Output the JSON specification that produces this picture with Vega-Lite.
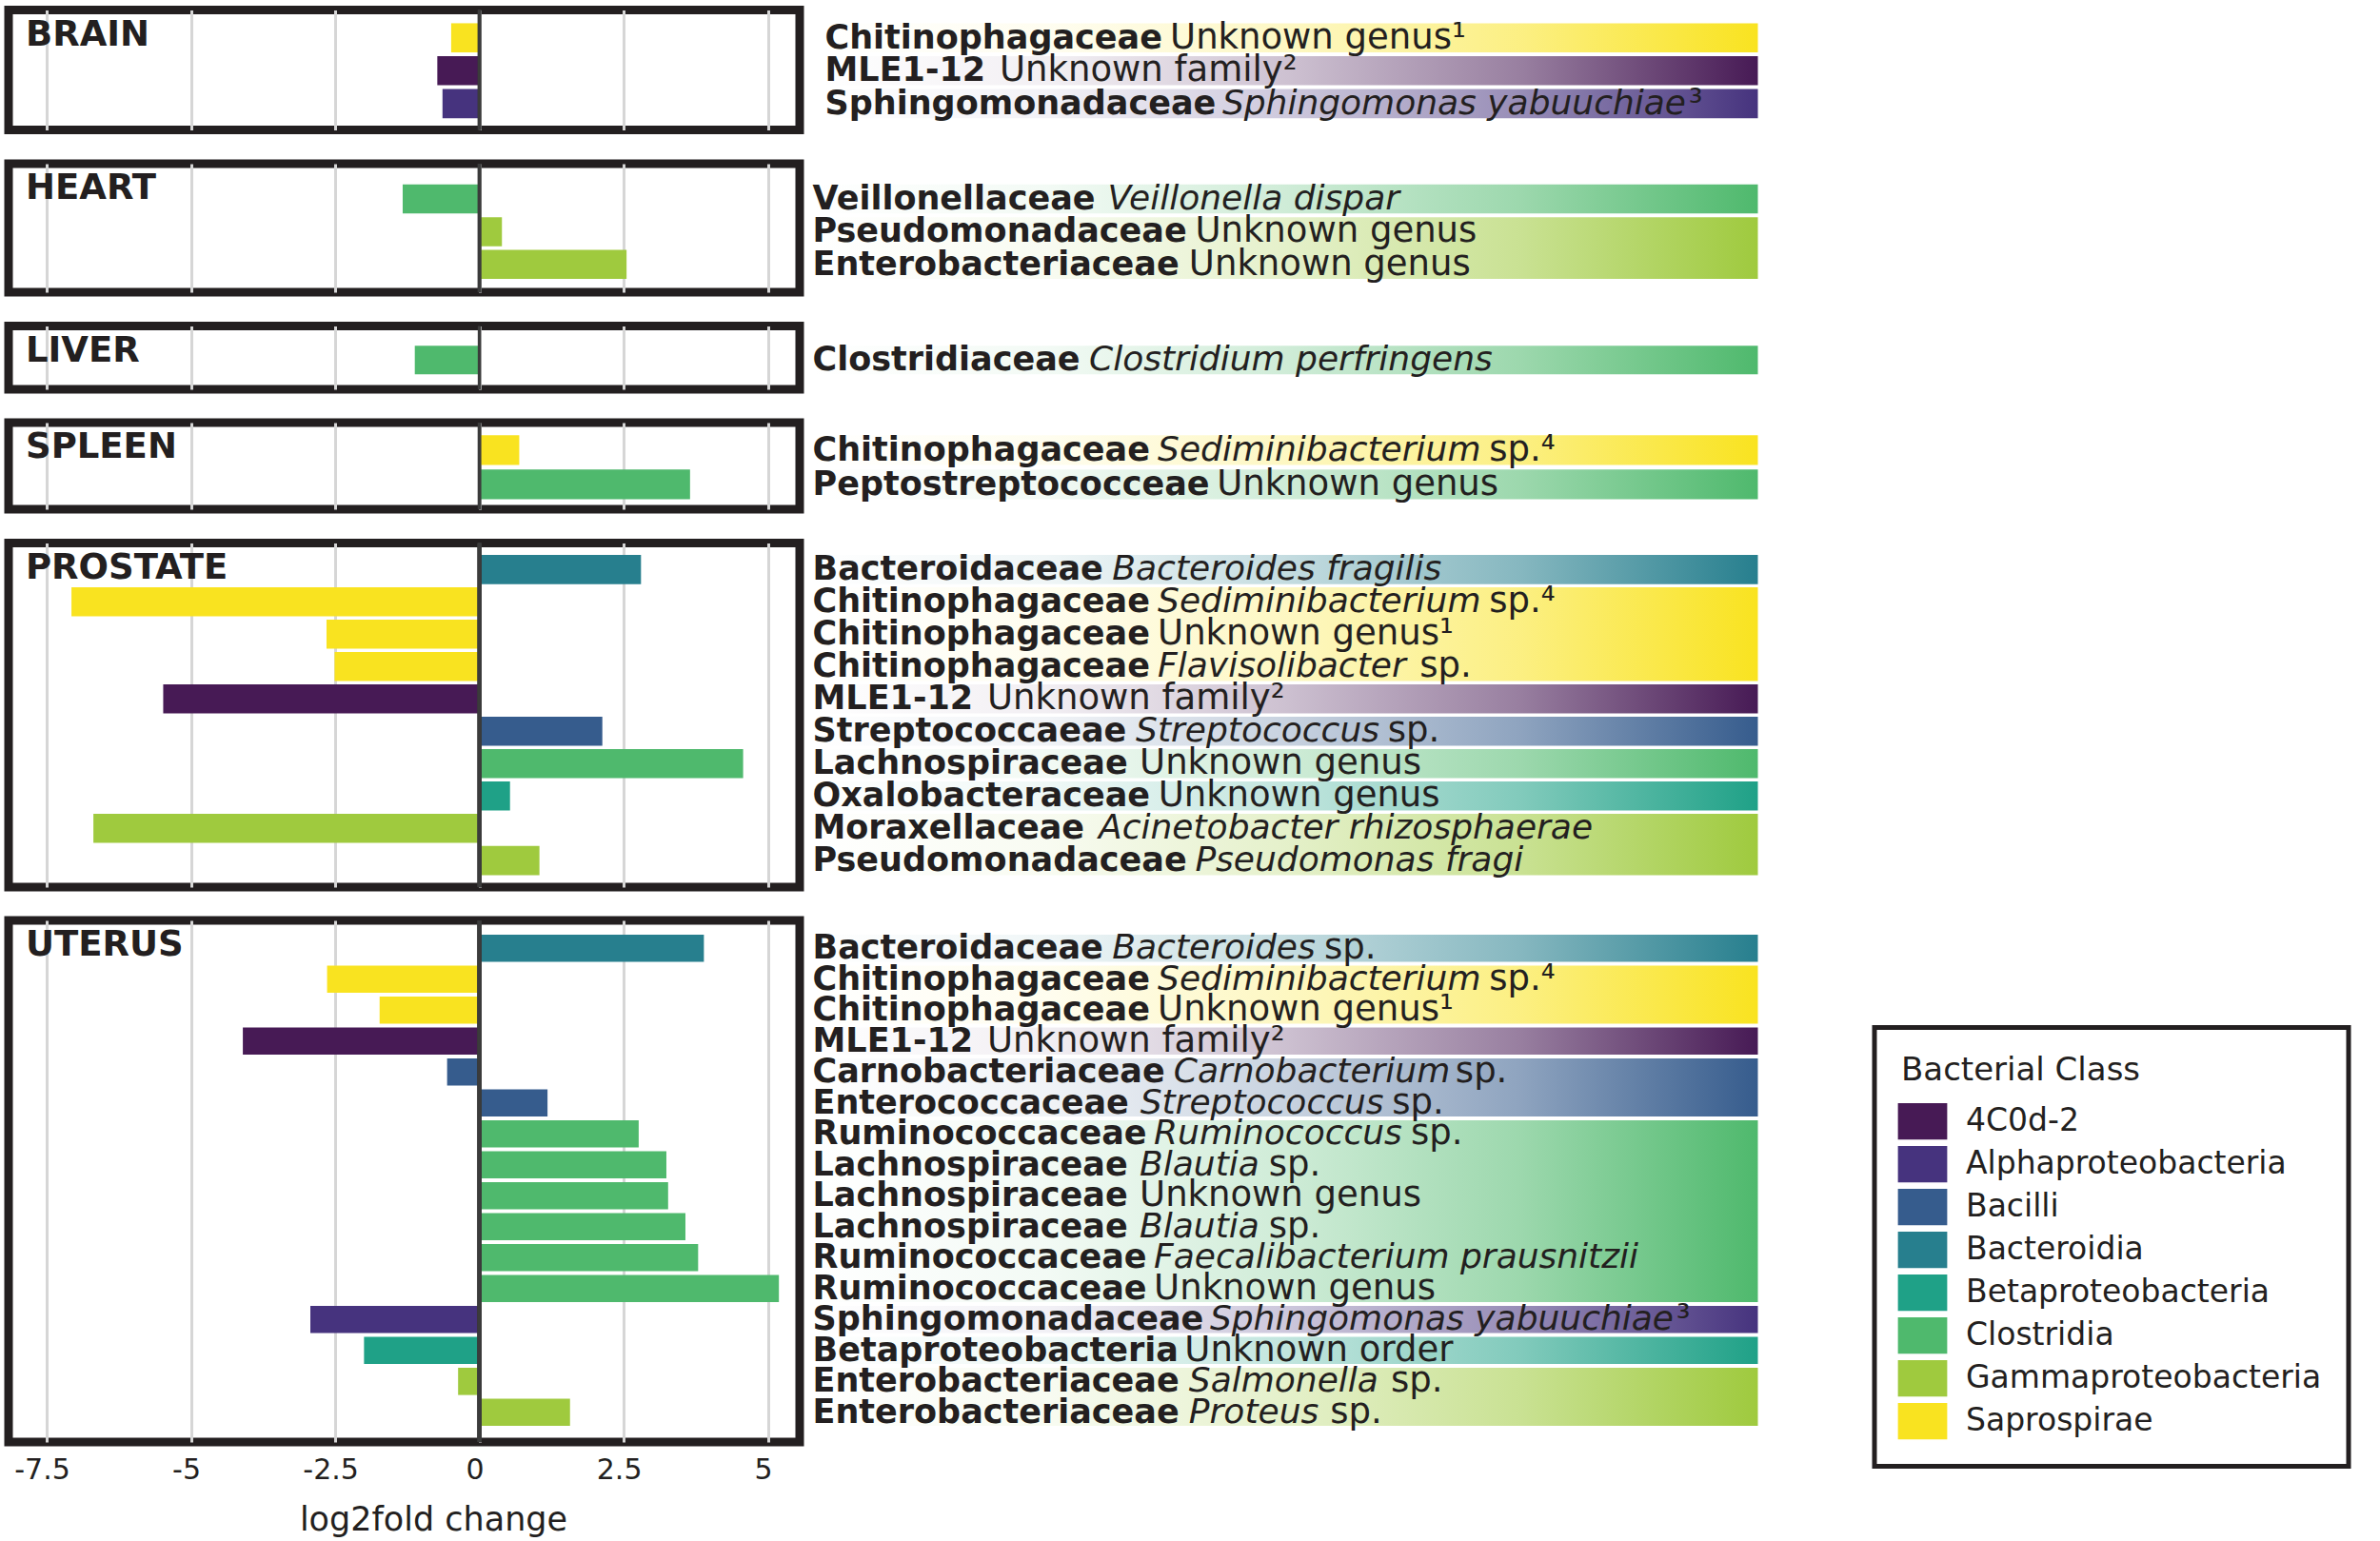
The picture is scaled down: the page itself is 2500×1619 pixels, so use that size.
{
  "$schema": "https://vega.github.io/schema/vega-lite/v6.json",
  "background": "white",
  "padding": {"left": 4, "top": 3.5, "right": 4, "bottom": 2},
  "datasets": {
    "taxa": [
      {"organ": "Brain", "rank": 1, "family": "Chitinophagaceae", "taxon": "", "note": "Unknown genus¹", "cls": "Saprospirae", "lfc": -0.49},
      {"organ": "Brain", "rank": 2, "family": "MLE1-12", "taxon": "", "note": "Unknown family²", "cls": "4C0d-2", "lfc": -0.73},
      {"organ": "Brain", "rank": 3, "family": "Sphingomonadaceae", "taxon": "Sphingomonas yabuuchiae", "note": "³", "cls": "Alphaproteobacteria", "lfc": -0.64},
      {"organ": "Heart", "rank": 1, "family": "Veillonellaceae", "taxon": "Veillonella dispar", "note": "", "cls": "Clostridia", "lfc": -1.33},
      {"organ": "Heart", "rank": 2, "family": "Pseudomonadaceae", "taxon": "", "note": "Unknown genus", "cls": "Gammaproteobacteria", "lfc": 0.39},
      {"organ": "Heart", "rank": 3, "family": "Enterobacteriaceae", "taxon": "", "note": "Unknown genus", "cls": "Gammaproteobacteria", "lfc": 2.55},
      {"organ": "Liver", "rank": 1, "family": "Clostridiaceae", "taxon": "Clostridium perfringens", "note": "", "cls": "Clostridia", "lfc": -1.12},
      {"organ": "Spleen", "rank": 1, "family": "Chitinophagaceae", "taxon": "Sediminibacterium", "note": "sp.⁴", "cls": "Saprospirae", "lfc": 0.69},
      {"organ": "Spleen", "rank": 2, "family": "Peptostreptococceae", "taxon": "", "note": "Unknown genus", "cls": "Clostridia", "lfc": 3.65},
      {"organ": "Prostate", "rank": 1, "family": "Bacteroidaceae", "taxon": "Bacteroides fragilis", "note": "", "cls": "Bacteroidia", "lfc": 2.8},
      {"organ": "Prostate", "rank": 2, "family": "Chitinophagaceae", "taxon": "Sediminibacterium", "note": "sp.⁴", "cls": "Saprospirae", "lfc": -7.07},
      {"organ": "Prostate", "rank": 3, "family": "Chitinophagaceae", "taxon": "", "note": "Unknown genus¹", "cls": "Saprospirae", "lfc": -2.65},
      {"organ": "Prostate", "rank": 4, "family": "Chitinophagaceae", "taxon": "Flavisolibacter", "note": "sp.", "cls": "Saprospirae", "lfc": -2.51},
      {"organ": "Prostate", "rank": 5, "family": "MLE1-12", "taxon": "", "note": "Unknown family²", "cls": "4C0d-2", "lfc": -5.48},
      {"organ": "Prostate", "rank": 6, "family": "Streptococcaeae", "taxon": "Streptococcus", "note": "sp.", "cls": "Bacilli", "lfc": 2.13},
      {"organ": "Prostate", "rank": 7, "family": "Lachnospiraceae", "taxon": "", "note": "Unknown genus", "cls": "Clostridia", "lfc": 4.57},
      {"organ": "Prostate", "rank": 8, "family": "Oxalobacteraceae", "taxon": "", "note": "Unknown genus", "cls": "Betaproteobacteria", "lfc": 0.53},
      {"organ": "Prostate", "rank": 9, "family": "Moraxellaceae", "taxon": "Acinetobacter rhizosphaerae", "note": "", "cls": "Gammaproteobacteria", "lfc": -6.69},
      {"organ": "Prostate", "rank": 10, "family": "Pseudomonadaceae", "taxon": "Pseudomonas fragi", "note": "", "cls": "Gammaproteobacteria", "lfc": 1.04},
      {"organ": "Uterus", "rank": 1, "family": "Bacteroidaceae", "taxon": "Bacteroides", "note": "sp.", "cls": "Bacteroidia", "lfc": 3.89},
      {"organ": "Uterus", "rank": 2, "family": "Chitinophagaceae", "taxon": "Sediminibacterium", "note": "sp.⁴", "cls": "Saprospirae", "lfc": -2.64},
      {"organ": "Uterus", "rank": 3, "family": "Chitinophagaceae", "taxon": "", "note": "Unknown genus¹", "cls": "Saprospirae", "lfc": -1.73},
      {"organ": "Uterus", "rank": 4, "family": "MLE1-12", "taxon": "", "note": "Unknown family²", "cls": "4C0d-2", "lfc": -4.1},
      {"organ": "Uterus", "rank": 5, "family": "Carnobacteriaceae", "taxon": "Carnobacterium", "note": "sp.", "cls": "Bacilli", "lfc": -0.56},
      {"organ": "Uterus", "rank": 6, "family": "Enterococcaceae", "taxon": "Streptococcus", "note": "sp.", "cls": "Bacilli", "lfc": 1.18},
      {"organ": "Uterus", "rank": 7, "family": "Ruminococcaceae", "taxon": "Ruminococcus", "note": "sp.", "cls": "Clostridia", "lfc": 2.76},
      {"organ": "Uterus", "rank": 8, "family": "Lachnospiraceae", "taxon": "Blautia", "note": "sp.", "cls": "Clostridia", "lfc": 3.24},
      {"organ": "Uterus", "rank": 9, "family": "Lachnospiraceae", "taxon": "", "note": "Unknown genus", "cls": "Clostridia", "lfc": 3.27},
      {"organ": "Uterus", "rank": 10, "family": "Lachnospiraceae", "taxon": "Blautia", "note": "sp.", "cls": "Clostridia", "lfc": 3.57},
      {"organ": "Uterus", "rank": 11, "family": "Ruminococcaceae", "taxon": "Faecalibacterium prausnitzii", "note": "", "cls": "Clostridia", "lfc": 3.79},
      {"organ": "Uterus", "rank": 12, "family": "Ruminococcaceae", "taxon": "", "note": "Unknown genus", "cls": "Clostridia", "lfc": 5.19},
      {"organ": "Uterus", "rank": 13, "family": "Sphingomonadaceae", "taxon": "Sphingomonas yabuuchiae", "note": "³", "cls": "Alphaproteobacteria", "lfc": -2.93},
      {"organ": "Uterus", "rank": 14, "family": "Betaproteobacteria", "taxon": "", "note": "Unknown order", "cls": "Betaproteobacteria", "lfc": -2.0},
      {"organ": "Uterus", "rank": 15, "family": "Enterobacteriaceae", "taxon": "Salmonella", "note": "sp.", "cls": "Gammaproteobacteria", "lfc": -0.37},
      {"organ": "Uterus", "rank": 16, "family": "Enterobacteriaceae", "taxon": "Proteus", "note": "sp.", "cls": "Gammaproteobacteria", "lfc": 1.57}
    ]
  },
  "data": {"name": "taxa"},
  "spacing": 21.5,
  "resolve": {"scale": {"x": "independent", "y": "independent", "color": "shared"}, "legend": {"color": "shared"}},
  "vconcat": [
    {
      "hconcat": [
        {
          "width": 831, "height": 126,
          "title": {"text": "BRAIN", "anchor": "start", "frame": "group", "orient": "top", "offset": -47, "dx": 18, "baseline": "top", "font": "DejaVu Sans", "fontSize": 37, "fontWeight": "bold", "color": "#231f20"},
          "transform": [{"filter": "datum.organ === 'Brain'"}],
          "layer": [
            {"mark": {"type": "bar"},
             "encoding": {
               "y": {"field": "rank", "type": "ordinal", "axis": null, "scale": {"paddingInner": 0.114, "paddingOuter": 0.38, "align": 0.53}},
               "x": {"field": "lfc", "type": "quantitative", "scale": {"domain": [-8.16, 5.55], "nice": false}, "axis": {"values": [-7.5, -5, -2.5, 0, 2.5, 5], "grid": true, "gridColor": "#d6d6d6", "gridWidth": 3, "labels": false, "ticks": false, "domain": false, "title": null}},
               "color": {"field": "cls", "type": "nominal", "title": "Bacterial Class", "scale": {"domain": ["4C0d-2", "Alphaproteobacteria", "Bacilli", "Bacteroidia", "Betaproteobacteria", "Clostridia", "Gammaproteobacteria", "Saprospirae"], "range": ["#471a55", "#46337e", "#365c8d", "#277f8e", "#1fa187", "#4fb96d", "#9fca3e", "#f9e320"]}}}},
            {"mark": {"type": "rule", "color": "#3b3b3b", "strokeWidth": 3.5}, "encoding": {"x": {"datum": 0}}}
          ]
        },
        {
          "width": 985, "height": 126, "view": {"stroke": null},
          "transform": [{"filter": "datum.organ === 'Brain'"}],
          "layer": [
            {"transform": [{"aggregate": [{"op": "min", "field": "rank", "as": "first"}, {"op": "max", "field": "rank", "as": "last"}], "groupby": ["cls"]}],
             "mark": {"type": "rect"},
             "encoding": {
               "y": {"field": "first", "type": "ordinal", "bandPosition": 0, "axis": null, "scale": {"paddingInner": 0.114, "paddingOuter": 0.38, "align": 0.53}},
               "y2": {"field": "last", "bandPosition": 1},
               "x": {"datum": 0, "type": "quantitative", "scale": {"domain": [0, 1], "nice": false}, "axis": null},
               "x2": {"datum": 1},
               "fill": {"condition": [
                 {"test": "datum.cls === '4C0d-2'", "value": {"gradient": "linear", "x1": 0, "y1": 0, "x2": 1, "y2": 0, "stops": [{"offset": 0, "color": "rgba(71,26,85,0)"}, {"offset": 0.25, "color": "rgba(71,26,85,0.07)"}, {"offset": 0.5, "color": "rgba(71,26,85,0.27)"}, {"offset": 0.75, "color": "rgba(71,26,85,0.56)"}, {"offset": 1, "color": "rgba(71,26,85,1)"}]}},
                 {"test": "datum.cls === 'Alphaproteobacteria'", "value": {"gradient": "linear", "x1": 0, "y1": 0, "x2": 1, "y2": 0, "stops": [{"offset": 0, "color": "rgba(70,51,126,0)"}, {"offset": 0.25, "color": "rgba(70,51,126,0.07)"}, {"offset": 0.5, "color": "rgba(70,51,126,0.27)"}, {"offset": 0.75, "color": "rgba(70,51,126,0.56)"}, {"offset": 1, "color": "rgba(70,51,126,1)"}]}},
                 {"test": "datum.cls === 'Saprospirae'", "value": {"gradient": "linear", "x1": 0, "y1": 0, "x2": 1, "y2": 0, "stops": [{"offset": 0, "color": "rgba(249,227,32,0)"}, {"offset": 0.25, "color": "rgba(249,227,32,0.07)"}, {"offset": 0.5, "color": "rgba(249,227,32,0.27)"}, {"offset": 0.75, "color": "rgba(249,227,32,0.56)"}, {"offset": 1, "color": "rgba(249,227,32,1)"}]}}
               ], "value": "#ffffff"}}},
            {"mark": {"type": "text", "align": "left", "baseline": "middle", "font": "DejaVu Sans", "fontWeight": "bold", "fontSize": 35, "color": "#231f20", "dx": 5},
             "encoding": {"y": {"field": "rank", "type": "ordinal"}, "x": {"datum": 0, "type": "quantitative"}, "text": {"field": "family"}}},
            {"mark": {"type": "text", "align": "left", "baseline": "middle", "font": "DejaVu Sans", "fontStyle": "italic", "fontSize": 36, "color": "#231f20",
                      "dx": {"expr": "5+35*(0.69*length(datum.family)-0.347*(length(datum.family)-length(replace(datum.family,regexp('[ilj]','g'),'')))-0.23*(length(datum.family)-length(replace(datum.family,regexp('[tfr -]','g'),'')))-0.1*(length(datum.family)-length(replace(datum.family,regexp('[csz]','g'),'')))+0.3*(length(datum.family)-length(replace(datum.family,regexp('[mwM]','g'),''))))+12"}},
             "encoding": {"y": {"field": "rank", "type": "ordinal"}, "x": {"datum": 0, "type": "quantitative"}, "text": {"field": "taxon"}}},
            {"mark": {"type": "text", "align": "left", "baseline": "middle", "font": "DejaVu Sans", "fontSize": 37, "color": "#231f20",
                      "dx": {"expr": "5+35*(0.69*length(datum.family)-0.347*(length(datum.family)-length(replace(datum.family,regexp('[ilj]','g'),'')))-0.23*(length(datum.family)-length(replace(datum.family,regexp('[tfr -]','g'),'')))-0.1*(length(datum.family)-length(replace(datum.family,regexp('[csz]','g'),'')))+0.3*(length(datum.family)-length(replace(datum.family,regexp('[mwM]','g'),''))))+12+(datum.taxon ? 36*(0.62*length(datum.taxon)-0.34*(length(datum.taxon)-length(replace(datum.taxon,regexp('[ilj.]','g'),'')))-0.25*(length(datum.taxon)-length(replace(datum.taxon,regexp('[tfr ]','g'),'')))-0.08*(length(datum.taxon)-length(replace(datum.taxon,regexp('[sc]','g'),'')))+0.354*(length(datum.taxon)-length(replace(datum.taxon,regexp('[m]','g'),'')))+0.2*(length(datum.taxon)-length(replace(datum.taxon,regexp('[w]','g'),''))))+(test(regexp('^[¹²³⁴]'),datum.note)?3:13) : 0)"}},
             "encoding": {"y": {"field": "rank", "type": "ordinal"}, "x": {"datum": 0, "type": "quantitative"}, "text": {"field": "note"}}}
          ]
        }
      ],
      "spacing": 21.5, "bounds": "flush",
      "resolve": {"scale": {"x": "independent", "y": "independent"}}
    },
    {
      "hconcat": [
        {
          "width": 831, "height": 135,
          "title": {"text": "HEART", "anchor": "start", "frame": "group", "orient": "top", "offset": -47, "dx": 18, "baseline": "top", "font": "DejaVu Sans", "fontSize": 37, "fontWeight": "bold", "color": "#231f20"},
          "transform": [{"filter": "datum.organ === 'Heart'"}],
          "layer": [
            {"mark": {"type": "bar"},
             "encoding": {
               "y": {"field": "rank", "type": "ordinal", "axis": null, "scale": {"paddingInner": 0.114, "paddingOuter": 0.52, "align": 0.61}},
               "x": {"field": "lfc", "type": "quantitative", "scale": {"domain": [-8.16, 5.55], "nice": false}, "axis": {"values": [-7.5, -5, -2.5, 0, 2.5, 5], "grid": true, "gridColor": "#d6d6d6", "gridWidth": 3, "labels": false, "ticks": false, "domain": false, "title": null}},
               "color": {"field": "cls", "type": "nominal", "title": "Bacterial Class", "scale": {"domain": ["4C0d-2", "Alphaproteobacteria", "Bacilli", "Bacteroidia", "Betaproteobacteria", "Clostridia", "Gammaproteobacteria", "Saprospirae"], "range": ["#471a55", "#46337e", "#365c8d", "#277f8e", "#1fa187", "#4fb96d", "#9fca3e", "#f9e320"]}}}},
            {"mark": {"type": "rule", "color": "#3b3b3b", "strokeWidth": 3.5}, "encoding": {"x": {"datum": 0}}}
          ]
        },
        {
          "width": 996, "height": 135, "view": {"stroke": null},
          "transform": [{"filter": "datum.organ === 'Heart'"}],
          "layer": [
            {"transform": [{"aggregate": [{"op": "min", "field": "rank", "as": "first"}, {"op": "max", "field": "rank", "as": "last"}], "groupby": ["cls"]}],
             "mark": {"type": "rect"},
             "encoding": {
               "y": {"field": "first", "type": "ordinal", "bandPosition": 0, "axis": null, "scale": {"paddingInner": 0.114, "paddingOuter": 0.52, "align": 0.61}},
               "y2": {"field": "last", "bandPosition": 1},
               "x": {"datum": 0, "type": "quantitative", "scale": {"domain": [0, 1], "nice": false}, "axis": null},
               "x2": {"datum": 1},
               "fill": {"condition": [
                 {"test": "datum.cls === 'Clostridia'", "value": {"gradient": "linear", "x1": 0, "y1": 0, "x2": 1, "y2": 0, "stops": [{"offset": 0, "color": "rgba(79,185,109,0)"}, {"offset": 0.25, "color": "rgba(79,185,109,0.07)"}, {"offset": 0.5, "color": "rgba(79,185,109,0.27)"}, {"offset": 0.75, "color": "rgba(79,185,109,0.56)"}, {"offset": 1, "color": "rgba(79,185,109,1)"}]}},
                 {"test": "datum.cls === 'Gammaproteobacteria'", "value": {"gradient": "linear", "x1": 0, "y1": 0, "x2": 1, "y2": 0, "stops": [{"offset": 0, "color": "rgba(159,202,62,0)"}, {"offset": 0.25, "color": "rgba(159,202,62,0.07)"}, {"offset": 0.5, "color": "rgba(159,202,62,0.27)"}, {"offset": 0.75, "color": "rgba(159,202,62,0.56)"}, {"offset": 1, "color": "rgba(159,202,62,1)"}]}}
               ], "value": "#ffffff"}}},
            {"mark": {"type": "text", "align": "left", "baseline": "middle", "font": "DejaVu Sans", "fontWeight": "bold", "fontSize": 35, "color": "#231f20", "dx": 3},
             "encoding": {"y": {"field": "rank", "type": "ordinal"}, "x": {"datum": 0, "type": "quantitative"}, "text": {"field": "family"}}},
            {"mark": {"type": "text", "align": "left", "baseline": "middle", "font": "DejaVu Sans", "fontStyle": "italic", "fontSize": 36, "color": "#231f20",
                      "dx": {"expr": "3+35*(0.69*length(datum.family)-0.347*(length(datum.family)-length(replace(datum.family,regexp('[ilj]','g'),'')))-0.23*(length(datum.family)-length(replace(datum.family,regexp('[tfr -]','g'),'')))-0.1*(length(datum.family)-length(replace(datum.family,regexp('[csz]','g'),'')))+0.3*(length(datum.family)-length(replace(datum.family,regexp('[mwM]','g'),''))))+12"}},
             "encoding": {"y": {"field": "rank", "type": "ordinal"}, "x": {"datum": 0, "type": "quantitative"}, "text": {"field": "taxon"}}},
            {"mark": {"type": "text", "align": "left", "baseline": "middle", "font": "DejaVu Sans", "fontSize": 37, "color": "#231f20",
                      "dx": {"expr": "3+35*(0.69*length(datum.family)-0.347*(length(datum.family)-length(replace(datum.family,regexp('[ilj]','g'),'')))-0.23*(length(datum.family)-length(replace(datum.family,regexp('[tfr -]','g'),'')))-0.1*(length(datum.family)-length(replace(datum.family,regexp('[csz]','g'),'')))+0.3*(length(datum.family)-length(replace(datum.family,regexp('[mwM]','g'),''))))+12+(datum.taxon ? 36*(0.62*length(datum.taxon)-0.34*(length(datum.taxon)-length(replace(datum.taxon,regexp('[ilj.]','g'),'')))-0.25*(length(datum.taxon)-length(replace(datum.taxon,regexp('[tfr ]','g'),'')))-0.08*(length(datum.taxon)-length(replace(datum.taxon,regexp('[sc]','g'),'')))+0.354*(length(datum.taxon)-length(replace(datum.taxon,regexp('[m]','g'),'')))+0.2*(length(datum.taxon)-length(replace(datum.taxon,regexp('[w]','g'),''))))+(test(regexp('^[¹²³⁴]'),datum.note)?3:13) : 0)"}},
             "encoding": {"y": {"field": "rank", "type": "ordinal"}, "x": {"datum": 0, "type": "quantitative"}, "text": {"field": "note"}}}
          ]
        }
      ],
      "spacing": 10.5, "bounds": "flush",
      "resolve": {"scale": {"x": "independent", "y": "independent"}}
    },
    {
      "hconcat": [
        {
          "width": 831, "height": 66.5,
          "title": {"text": "LIVER", "anchor": "start", "frame": "group", "orient": "top", "offset": -47, "dx": 18, "baseline": "top", "font": "DejaVu Sans", "fontSize": 37, "fontWeight": "bold", "color": "#231f20"},
          "transform": [{"filter": "datum.organ === 'Liver'"}],
          "layer": [
            {"mark": {"type": "bar"},
             "encoding": {
               "y": {"field": "rank", "type": "ordinal", "axis": null, "scale": {"paddingInner": 0.114, "paddingOuter": 0.54, "align": 0.57}},
               "x": {"field": "lfc", "type": "quantitative", "scale": {"domain": [-8.16, 5.55], "nice": false}, "axis": {"values": [-7.5, -5, -2.5, 0, 2.5, 5], "grid": true, "gridColor": "#d6d6d6", "gridWidth": 3, "labels": false, "ticks": false, "domain": false, "title": null}},
               "color": {"field": "cls", "type": "nominal", "title": "Bacterial Class", "scale": {"domain": ["4C0d-2", "Alphaproteobacteria", "Bacilli", "Bacteroidia", "Betaproteobacteria", "Clostridia", "Gammaproteobacteria", "Saprospirae"], "range": ["#471a55", "#46337e", "#365c8d", "#277f8e", "#1fa187", "#4fb96d", "#9fca3e", "#f9e320"]}}}},
            {"mark": {"type": "rule", "color": "#3b3b3b", "strokeWidth": 3.5}, "encoding": {"x": {"datum": 0}}}
          ]
        },
        {
          "width": 996, "height": 66.5, "view": {"stroke": null},
          "transform": [{"filter": "datum.organ === 'Liver'"}],
          "layer": [
            {"transform": [{"aggregate": [{"op": "min", "field": "rank", "as": "first"}, {"op": "max", "field": "rank", "as": "last"}], "groupby": ["cls"]}],
             "mark": {"type": "rect"},
             "encoding": {
               "y": {"field": "first", "type": "ordinal", "bandPosition": 0, "axis": null, "scale": {"paddingInner": 0.114, "paddingOuter": 0.54, "align": 0.57}},
               "y2": {"field": "last", "bandPosition": 1},
               "x": {"datum": 0, "type": "quantitative", "scale": {"domain": [0, 1], "nice": false}, "axis": null},
               "x2": {"datum": 1},
               "fill": {"condition": [
                 {"test": "datum.cls === 'Clostridia'", "value": {"gradient": "linear", "x1": 0, "y1": 0, "x2": 1, "y2": 0, "stops": [{"offset": 0, "color": "rgba(79,185,109,0)"}, {"offset": 0.25, "color": "rgba(79,185,109,0.07)"}, {"offset": 0.5, "color": "rgba(79,185,109,0.27)"}, {"offset": 0.75, "color": "rgba(79,185,109,0.56)"}, {"offset": 1, "color": "rgba(79,185,109,1)"}]}}
               ], "value": "#ffffff"}}},
            {"mark": {"type": "text", "align": "left", "baseline": "middle", "font": "DejaVu Sans", "fontWeight": "bold", "fontSize": 35, "color": "#231f20", "dx": 3},
             "encoding": {"y": {"field": "rank", "type": "ordinal"}, "x": {"datum": 0, "type": "quantitative"}, "text": {"field": "family"}}},
            {"mark": {"type": "text", "align": "left", "baseline": "middle", "font": "DejaVu Sans", "fontStyle": "italic", "fontSize": 36, "color": "#231f20",
                      "dx": {"expr": "3+35*(0.69*length(datum.family)-0.347*(length(datum.family)-length(replace(datum.family,regexp('[ilj]','g'),'')))-0.23*(length(datum.family)-length(replace(datum.family,regexp('[tfr -]','g'),'')))-0.1*(length(datum.family)-length(replace(datum.family,regexp('[csz]','g'),'')))+0.3*(length(datum.family)-length(replace(datum.family,regexp('[mwM]','g'),''))))+12"}},
             "encoding": {"y": {"field": "rank", "type": "ordinal"}, "x": {"datum": 0, "type": "quantitative"}, "text": {"field": "taxon"}}},
            {"mark": {"type": "text", "align": "left", "baseline": "middle", "font": "DejaVu Sans", "fontSize": 37, "color": "#231f20",
                      "dx": {"expr": "3+35*(0.69*length(datum.family)-0.347*(length(datum.family)-length(replace(datum.family,regexp('[ilj]','g'),'')))-0.23*(length(datum.family)-length(replace(datum.family,regexp('[tfr -]','g'),'')))-0.1*(length(datum.family)-length(replace(datum.family,regexp('[csz]','g'),'')))+0.3*(length(datum.family)-length(replace(datum.family,regexp('[mwM]','g'),''))))+12+(datum.taxon ? 36*(0.62*length(datum.taxon)-0.34*(length(datum.taxon)-length(replace(datum.taxon,regexp('[ilj.]','g'),'')))-0.25*(length(datum.taxon)-length(replace(datum.taxon,regexp('[tfr ]','g'),'')))-0.08*(length(datum.taxon)-length(replace(datum.taxon,regexp('[sc]','g'),'')))+0.354*(length(datum.taxon)-length(replace(datum.taxon,regexp('[m]','g'),'')))+0.2*(length(datum.taxon)-length(replace(datum.taxon,regexp('[w]','g'),''))))+(test(regexp('^[¹²³⁴]'),datum.note)?3:13) : 0)"}},
             "encoding": {"y": {"field": "rank", "type": "ordinal"}, "x": {"datum": 0, "type": "quantitative"}, "text": {"field": "note"}}}
          ]
        }
      ],
      "spacing": 10.5, "bounds": "flush",
      "resolve": {"scale": {"x": "independent", "y": "independent"}}
    },
    {
      "hconcat": [
        {
          "width": 831, "height": 91,
          "title": {"text": "SPLEEN", "anchor": "start", "frame": "group", "orient": "top", "offset": -47, "dx": 18, "baseline": "top", "font": "DejaVu Sans", "fontSize": 37, "fontWeight": "bold", "color": "#231f20"},
          "transform": [{"filter": "datum.organ === 'Spleen'"}],
          "layer": [
            {"mark": {"type": "bar"},
             "encoding": {
               "y": {"field": "rank", "type": "ordinal", "axis": null, "scale": {"paddingInner": 0.135, "paddingOuter": 0.33, "align": 0.56}},
               "x": {"field": "lfc", "type": "quantitative", "scale": {"domain": [-8.16, 5.55], "nice": false}, "axis": {"values": [-7.5, -5, -2.5, 0, 2.5, 5], "grid": true, "gridColor": "#d6d6d6", "gridWidth": 3, "labels": false, "ticks": false, "domain": false, "title": null}},
               "color": {"field": "cls", "type": "nominal", "title": "Bacterial Class", "scale": {"domain": ["4C0d-2", "Alphaproteobacteria", "Bacilli", "Bacteroidia", "Betaproteobacteria", "Clostridia", "Gammaproteobacteria", "Saprospirae"], "range": ["#471a55", "#46337e", "#365c8d", "#277f8e", "#1fa187", "#4fb96d", "#9fca3e", "#f9e320"]}}}},
            {"mark": {"type": "rule", "color": "#3b3b3b", "strokeWidth": 3.5}, "encoding": {"x": {"datum": 0}}}
          ]
        },
        {
          "width": 996, "height": 91, "view": {"stroke": null},
          "transform": [{"filter": "datum.organ === 'Spleen'"}],
          "layer": [
            {"transform": [{"aggregate": [{"op": "min", "field": "rank", "as": "first"}, {"op": "max", "field": "rank", "as": "last"}], "groupby": ["cls"]}],
             "mark": {"type": "rect"},
             "encoding": {
               "y": {"field": "first", "type": "ordinal", "bandPosition": 0, "axis": null, "scale": {"paddingInner": 0.135, "paddingOuter": 0.33, "align": 0.56}},
               "y2": {"field": "last", "bandPosition": 1},
               "x": {"datum": 0, "type": "quantitative", "scale": {"domain": [0, 1], "nice": false}, "axis": null},
               "x2": {"datum": 1},
               "fill": {"condition": [
                 {"test": "datum.cls === 'Clostridia'", "value": {"gradient": "linear", "x1": 0, "y1": 0, "x2": 1, "y2": 0, "stops": [{"offset": 0, "color": "rgba(79,185,109,0)"}, {"offset": 0.25, "color": "rgba(79,185,109,0.07)"}, {"offset": 0.5, "color": "rgba(79,185,109,0.27)"}, {"offset": 0.75, "color": "rgba(79,185,109,0.56)"}, {"offset": 1, "color": "rgba(79,185,109,1)"}]}},
                 {"test": "datum.cls === 'Saprospirae'", "value": {"gradient": "linear", "x1": 0, "y1": 0, "x2": 1, "y2": 0, "stops": [{"offset": 0, "color": "rgba(249,227,32,0)"}, {"offset": 0.25, "color": "rgba(249,227,32,0.07)"}, {"offset": 0.5, "color": "rgba(249,227,32,0.27)"}, {"offset": 0.75, "color": "rgba(249,227,32,0.56)"}, {"offset": 1, "color": "rgba(249,227,32,1)"}]}}
               ], "value": "#ffffff"}}},
            {"mark": {"type": "text", "align": "left", "baseline": "middle", "font": "DejaVu Sans", "fontWeight": "bold", "fontSize": 35, "color": "#231f20", "dx": 3},
             "encoding": {"y": {"field": "rank", "type": "ordinal"}, "x": {"datum": 0, "type": "quantitative"}, "text": {"field": "family"}}},
            {"mark": {"type": "text", "align": "left", "baseline": "middle", "font": "DejaVu Sans", "fontStyle": "italic", "fontSize": 36, "color": "#231f20",
                      "dx": {"expr": "3+35*(0.69*length(datum.family)-0.347*(length(datum.family)-length(replace(datum.family,regexp('[ilj]','g'),'')))-0.23*(length(datum.family)-length(replace(datum.family,regexp('[tfr -]','g'),'')))-0.1*(length(datum.family)-length(replace(datum.family,regexp('[csz]','g'),'')))+0.3*(length(datum.family)-length(replace(datum.family,regexp('[mwM]','g'),''))))+12"}},
             "encoding": {"y": {"field": "rank", "type": "ordinal"}, "x": {"datum": 0, "type": "quantitative"}, "text": {"field": "taxon"}}},
            {"mark": {"type": "text", "align": "left", "baseline": "middle", "font": "DejaVu Sans", "fontSize": 37, "color": "#231f20",
                      "dx": {"expr": "3+35*(0.69*length(datum.family)-0.347*(length(datum.family)-length(replace(datum.family,regexp('[ilj]','g'),'')))-0.23*(length(datum.family)-length(replace(datum.family,regexp('[tfr -]','g'),'')))-0.1*(length(datum.family)-length(replace(datum.family,regexp('[csz]','g'),'')))+0.3*(length(datum.family)-length(replace(datum.family,regexp('[mwM]','g'),''))))+12+(datum.taxon ? 36*(0.62*length(datum.taxon)-0.34*(length(datum.taxon)-length(replace(datum.taxon,regexp('[ilj.]','g'),'')))-0.25*(length(datum.taxon)-length(replace(datum.taxon,regexp('[tfr ]','g'),'')))-0.08*(length(datum.taxon)-length(replace(datum.taxon,regexp('[sc]','g'),'')))+0.354*(length(datum.taxon)-length(replace(datum.taxon,regexp('[m]','g'),'')))+0.2*(length(datum.taxon)-length(replace(datum.taxon,regexp('[w]','g'),''))))+(test(regexp('^[¹²³⁴]'),datum.note)?3:13) : 0)"}},
             "encoding": {"y": {"field": "rank", "type": "ordinal"}, "x": {"datum": 0, "type": "quantitative"}, "text": {"field": "note"}}}
          ]
        }
      ],
      "spacing": 10.5, "bounds": "flush",
      "resolve": {"scale": {"x": "independent", "y": "independent"}}
    },
    {
      "hconcat": [
        {
          "width": 831, "height": 361.5,
          "title": {"text": "PROSTATE", "anchor": "start", "frame": "group", "orient": "top", "offset": -47, "dx": 18, "baseline": "top", "font": "DejaVu Sans", "fontSize": 37, "fontWeight": "bold", "color": "#231f20"},
          "transform": [{"filter": "datum.organ === 'Prostate'"}],
          "layer": [
            {"mark": {"type": "bar"},
             "encoding": {
               "y": {"field": "rank", "type": "ordinal", "axis": null, "scale": {"paddingInner": 0.1, "paddingOuter": 0.37, "align": 0.5}},
               "x": {"field": "lfc", "type": "quantitative", "scale": {"domain": [-8.16, 5.55], "nice": false}, "axis": {"values": [-7.5, -5, -2.5, 0, 2.5, 5], "grid": true, "gridColor": "#d6d6d6", "gridWidth": 3, "labels": false, "ticks": false, "domain": false, "title": null}},
               "color": {"field": "cls", "type": "nominal", "title": "Bacterial Class", "scale": {"domain": ["4C0d-2", "Alphaproteobacteria", "Bacilli", "Bacteroidia", "Betaproteobacteria", "Clostridia", "Gammaproteobacteria", "Saprospirae"], "range": ["#471a55", "#46337e", "#365c8d", "#277f8e", "#1fa187", "#4fb96d", "#9fca3e", "#f9e320"]}}}},
            {"mark": {"type": "rule", "color": "#3b3b3b", "strokeWidth": 3.5}, "encoding": {"x": {"datum": 0}}}
          ]
        },
        {
          "width": 996, "height": 361.5, "view": {"stroke": null},
          "transform": [{"filter": "datum.organ === 'Prostate'"}],
          "layer": [
            {"transform": [{"aggregate": [{"op": "min", "field": "rank", "as": "first"}, {"op": "max", "field": "rank", "as": "last"}], "groupby": ["cls"]}],
             "mark": {"type": "rect"},
             "encoding": {
               "y": {"field": "first", "type": "ordinal", "bandPosition": 0, "axis": null, "scale": {"paddingInner": 0.1, "paddingOuter": 0.37, "align": 0.5}},
               "y2": {"field": "last", "bandPosition": 1},
               "x": {"datum": 0, "type": "quantitative", "scale": {"domain": [0, 1], "nice": false}, "axis": null},
               "x2": {"datum": 1},
               "fill": {"condition": [
                 {"test": "datum.cls === '4C0d-2'", "value": {"gradient": "linear", "x1": 0, "y1": 0, "x2": 1, "y2": 0, "stops": [{"offset": 0, "color": "rgba(71,26,85,0)"}, {"offset": 0.25, "color": "rgba(71,26,85,0.07)"}, {"offset": 0.5, "color": "rgba(71,26,85,0.27)"}, {"offset": 0.75, "color": "rgba(71,26,85,0.56)"}, {"offset": 1, "color": "rgba(71,26,85,1)"}]}},
                 {"test": "datum.cls === 'Bacilli'", "value": {"gradient": "linear", "x1": 0, "y1": 0, "x2": 1, "y2": 0, "stops": [{"offset": 0, "color": "rgba(54,92,141,0)"}, {"offset": 0.25, "color": "rgba(54,92,141,0.07)"}, {"offset": 0.5, "color": "rgba(54,92,141,0.27)"}, {"offset": 0.75, "color": "rgba(54,92,141,0.56)"}, {"offset": 1, "color": "rgba(54,92,141,1)"}]}},
                 {"test": "datum.cls === 'Bacteroidia'", "value": {"gradient": "linear", "x1": 0, "y1": 0, "x2": 1, "y2": 0, "stops": [{"offset": 0, "color": "rgba(39,127,142,0)"}, {"offset": 0.25, "color": "rgba(39,127,142,0.07)"}, {"offset": 0.5, "color": "rgba(39,127,142,0.27)"}, {"offset": 0.75, "color": "rgba(39,127,142,0.56)"}, {"offset": 1, "color": "rgba(39,127,142,1)"}]}},
                 {"test": "datum.cls === 'Betaproteobacteria'", "value": {"gradient": "linear", "x1": 0, "y1": 0, "x2": 1, "y2": 0, "stops": [{"offset": 0, "color": "rgba(31,161,135,0)"}, {"offset": 0.25, "color": "rgba(31,161,135,0.07)"}, {"offset": 0.5, "color": "rgba(31,161,135,0.27)"}, {"offset": 0.75, "color": "rgba(31,161,135,0.56)"}, {"offset": 1, "color": "rgba(31,161,135,1)"}]}},
                 {"test": "datum.cls === 'Clostridia'", "value": {"gradient": "linear", "x1": 0, "y1": 0, "x2": 1, "y2": 0, "stops": [{"offset": 0, "color": "rgba(79,185,109,0)"}, {"offset": 0.25, "color": "rgba(79,185,109,0.07)"}, {"offset": 0.5, "color": "rgba(79,185,109,0.27)"}, {"offset": 0.75, "color": "rgba(79,185,109,0.56)"}, {"offset": 1, "color": "rgba(79,185,109,1)"}]}},
                 {"test": "datum.cls === 'Gammaproteobacteria'", "value": {"gradient": "linear", "x1": 0, "y1": 0, "x2": 1, "y2": 0, "stops": [{"offset": 0, "color": "rgba(159,202,62,0)"}, {"offset": 0.25, "color": "rgba(159,202,62,0.07)"}, {"offset": 0.5, "color": "rgba(159,202,62,0.27)"}, {"offset": 0.75, "color": "rgba(159,202,62,0.56)"}, {"offset": 1, "color": "rgba(159,202,62,1)"}]}},
                 {"test": "datum.cls === 'Saprospirae'", "value": {"gradient": "linear", "x1": 0, "y1": 0, "x2": 1, "y2": 0, "stops": [{"offset": 0, "color": "rgba(249,227,32,0)"}, {"offset": 0.25, "color": "rgba(249,227,32,0.07)"}, {"offset": 0.5, "color": "rgba(249,227,32,0.27)"}, {"offset": 0.75, "color": "rgba(249,227,32,0.56)"}, {"offset": 1, "color": "rgba(249,227,32,1)"}]}}
               ], "value": "#ffffff"}}},
            {"mark": {"type": "text", "align": "left", "baseline": "middle", "font": "DejaVu Sans", "fontWeight": "bold", "fontSize": 35, "color": "#231f20", "dx": 3},
             "encoding": {"y": {"field": "rank", "type": "ordinal"}, "x": {"datum": 0, "type": "quantitative"}, "text": {"field": "family"}}},
            {"mark": {"type": "text", "align": "left", "baseline": "middle", "font": "DejaVu Sans", "fontStyle": "italic", "fontSize": 36, "color": "#231f20",
                      "dx": {"expr": "3+35*(0.69*length(datum.family)-0.347*(length(datum.family)-length(replace(datum.family,regexp('[ilj]','g'),'')))-0.23*(length(datum.family)-length(replace(datum.family,regexp('[tfr -]','g'),'')))-0.1*(length(datum.family)-length(replace(datum.family,regexp('[csz]','g'),'')))+0.3*(length(datum.family)-length(replace(datum.family,regexp('[mwM]','g'),''))))+12"}},
             "encoding": {"y": {"field": "rank", "type": "ordinal"}, "x": {"datum": 0, "type": "quantitative"}, "text": {"field": "taxon"}}},
            {"mark": {"type": "text", "align": "left", "baseline": "middle", "font": "DejaVu Sans", "fontSize": 37, "color": "#231f20",
                      "dx": {"expr": "3+35*(0.69*length(datum.family)-0.347*(length(datum.family)-length(replace(datum.family,regexp('[ilj]','g'),'')))-0.23*(length(datum.family)-length(replace(datum.family,regexp('[tfr -]','g'),'')))-0.1*(length(datum.family)-length(replace(datum.family,regexp('[csz]','g'),'')))+0.3*(length(datum.family)-length(replace(datum.family,regexp('[mwM]','g'),''))))+12+(datum.taxon ? 36*(0.62*length(datum.taxon)-0.34*(length(datum.taxon)-length(replace(datum.taxon,regexp('[ilj.]','g'),'')))-0.25*(length(datum.taxon)-length(replace(datum.taxon,regexp('[tfr ]','g'),'')))-0.08*(length(datum.taxon)-length(replace(datum.taxon,regexp('[sc]','g'),'')))+0.354*(length(datum.taxon)-length(replace(datum.taxon,regexp('[m]','g'),'')))+0.2*(length(datum.taxon)-length(replace(datum.taxon,regexp('[w]','g'),''))))+(test(regexp('^[¹²³⁴]'),datum.note)?3:13) : 0)"}},
             "encoding": {"y": {"field": "rank", "type": "ordinal"}, "x": {"datum": 0, "type": "quantitative"}, "text": {"field": "note"}}}
          ]
        }
      ],
      "spacing": 10.5, "bounds": "flush",
      "resolve": {"scale": {"x": "independent", "y": "independent"}}
    },
    {
      "hconcat": [
        {
          "width": 831, "height": 548,
          "title": {"text": "UTERUS", "anchor": "start", "frame": "group", "orient": "top", "offset": -47, "dx": 18, "baseline": "top", "font": "DejaVu Sans", "fontSize": 37, "fontWeight": "bold", "color": "#231f20"},
          "transform": [{"filter": "datum.organ === 'Uterus'"}],
          "layer": [
            {"mark": {"type": "bar"},
             "encoding": {
               "y": {"field": "rank", "type": "ordinal", "axis": null, "scale": {"paddingInner": 0.12, "paddingOuter": 0.49, "align": 0.47}},
               "x": {"field": "lfc", "type": "quantitative", "scale": {"domain": [-8.16, 5.55], "nice": false}, "axis": {"values": [-7.5, -5, -2.5, 0, 2.5, 5], "grid": true, "gridColor": "#d6d6d6", "gridWidth": 3, "labels": true, "ticks": false, "domain": false, "labelFont": "DejaVu Sans", "labelFontSize": 30, "labelColor": "#231f20", "labelPadding": 14, "labelOffset": -5, "labelExpr": "'' + datum.value", "title": "log2fold change", "titleFont": "DejaVu Sans", "titleFontSize": 35, "titleFontWeight": "normal", "titleColor": "#231f20", "titlePadding": 20, "titleX": 446}},
               "color": {"field": "cls", "type": "nominal", "title": "Bacterial Class", "scale": {"domain": ["4C0d-2", "Alphaproteobacteria", "Bacilli", "Bacteroidia", "Betaproteobacteria", "Clostridia", "Gammaproteobacteria", "Saprospirae"], "range": ["#471a55", "#46337e", "#365c8d", "#277f8e", "#1fa187", "#4fb96d", "#9fca3e", "#f9e320"]}}}},
            {"mark": {"type": "rule", "color": "#3b3b3b", "strokeWidth": 3.5}, "encoding": {"x": {"datum": 0}}}
          ]
        },
        {
          "width": 996, "height": 548, "view": {"stroke": null},
          "transform": [{"filter": "datum.organ === 'Uterus'"}],
          "layer": [
            {"transform": [{"aggregate": [{"op": "min", "field": "rank", "as": "first"}, {"op": "max", "field": "rank", "as": "last"}], "groupby": ["cls"]}],
             "mark": {"type": "rect"},
             "encoding": {
               "y": {"field": "first", "type": "ordinal", "bandPosition": 0, "axis": null, "scale": {"paddingInner": 0.12, "paddingOuter": 0.49, "align": 0.47}},
               "y2": {"field": "last", "bandPosition": 1},
               "x": {"datum": 0, "type": "quantitative", "scale": {"domain": [0, 1], "nice": false}, "axis": null},
               "x2": {"datum": 1},
               "fill": {"condition": [
                 {"test": "datum.cls === '4C0d-2'", "value": {"gradient": "linear", "x1": 0, "y1": 0, "x2": 1, "y2": 0, "stops": [{"offset": 0, "color": "rgba(71,26,85,0)"}, {"offset": 0.25, "color": "rgba(71,26,85,0.07)"}, {"offset": 0.5, "color": "rgba(71,26,85,0.27)"}, {"offset": 0.75, "color": "rgba(71,26,85,0.56)"}, {"offset": 1, "color": "rgba(71,26,85,1)"}]}},
                 {"test": "datum.cls === 'Alphaproteobacteria'", "value": {"gradient": "linear", "x1": 0, "y1": 0, "x2": 1, "y2": 0, "stops": [{"offset": 0, "color": "rgba(70,51,126,0)"}, {"offset": 0.25, "color": "rgba(70,51,126,0.07)"}, {"offset": 0.5, "color": "rgba(70,51,126,0.27)"}, {"offset": 0.75, "color": "rgba(70,51,126,0.56)"}, {"offset": 1, "color": "rgba(70,51,126,1)"}]}},
                 {"test": "datum.cls === 'Bacilli'", "value": {"gradient": "linear", "x1": 0, "y1": 0, "x2": 1, "y2": 0, "stops": [{"offset": 0, "color": "rgba(54,92,141,0)"}, {"offset": 0.25, "color": "rgba(54,92,141,0.07)"}, {"offset": 0.5, "color": "rgba(54,92,141,0.27)"}, {"offset": 0.75, "color": "rgba(54,92,141,0.56)"}, {"offset": 1, "color": "rgba(54,92,141,1)"}]}},
                 {"test": "datum.cls === 'Bacteroidia'", "value": {"gradient": "linear", "x1": 0, "y1": 0, "x2": 1, "y2": 0, "stops": [{"offset": 0, "color": "rgba(39,127,142,0)"}, {"offset": 0.25, "color": "rgba(39,127,142,0.07)"}, {"offset": 0.5, "color": "rgba(39,127,142,0.27)"}, {"offset": 0.75, "color": "rgba(39,127,142,0.56)"}, {"offset": 1, "color": "rgba(39,127,142,1)"}]}},
                 {"test": "datum.cls === 'Betaproteobacteria'", "value": {"gradient": "linear", "x1": 0, "y1": 0, "x2": 1, "y2": 0, "stops": [{"offset": 0, "color": "rgba(31,161,135,0)"}, {"offset": 0.25, "color": "rgba(31,161,135,0.07)"}, {"offset": 0.5, "color": "rgba(31,161,135,0.27)"}, {"offset": 0.75, "color": "rgba(31,161,135,0.56)"}, {"offset": 1, "color": "rgba(31,161,135,1)"}]}},
                 {"test": "datum.cls === 'Clostridia'", "value": {"gradient": "linear", "x1": 0, "y1": 0, "x2": 1, "y2": 0, "stops": [{"offset": 0, "color": "rgba(79,185,109,0)"}, {"offset": 0.25, "color": "rgba(79,185,109,0.07)"}, {"offset": 0.5, "color": "rgba(79,185,109,0.27)"}, {"offset": 0.75, "color": "rgba(79,185,109,0.56)"}, {"offset": 1, "color": "rgba(79,185,109,1)"}]}},
                 {"test": "datum.cls === 'Gammaproteobacteria'", "value": {"gradient": "linear", "x1": 0, "y1": 0, "x2": 1, "y2": 0, "stops": [{"offset": 0, "color": "rgba(159,202,62,0)"}, {"offset": 0.25, "color": "rgba(159,202,62,0.07)"}, {"offset": 0.5, "color": "rgba(159,202,62,0.27)"}, {"offset": 0.75, "color": "rgba(159,202,62,0.56)"}, {"offset": 1, "color": "rgba(159,202,62,1)"}]}},
                 {"test": "datum.cls === 'Saprospirae'", "value": {"gradient": "linear", "x1": 0, "y1": 0, "x2": 1, "y2": 0, "stops": [{"offset": 0, "color": "rgba(249,227,32,0)"}, {"offset": 0.25, "color": "rgba(249,227,32,0.07)"}, {"offset": 0.5, "color": "rgba(249,227,32,0.27)"}, {"offset": 0.75, "color": "rgba(249,227,32,0.56)"}, {"offset": 1, "color": "rgba(249,227,32,1)"}]}}
               ], "value": "#ffffff"}}},
            {"mark": {"type": "text", "align": "left", "baseline": "middle", "font": "DejaVu Sans", "fontWeight": "bold", "fontSize": 35, "color": "#231f20", "dx": 3},
             "encoding": {"y": {"field": "rank", "type": "ordinal"}, "x": {"datum": 0, "type": "quantitative"}, "text": {"field": "family"}}},
            {"mark": {"type": "text", "align": "left", "baseline": "middle", "font": "DejaVu Sans", "fontStyle": "italic", "fontSize": 36, "color": "#231f20",
                      "dx": {"expr": "3+35*(0.69*length(datum.family)-0.347*(length(datum.family)-length(replace(datum.family,regexp('[ilj]','g'),'')))-0.23*(length(datum.family)-length(replace(datum.family,regexp('[tfr -]','g'),'')))-0.1*(length(datum.family)-length(replace(datum.family,regexp('[csz]','g'),'')))+0.3*(length(datum.family)-length(replace(datum.family,regexp('[mwM]','g'),''))))+12"}},
             "encoding": {"y": {"field": "rank", "type": "ordinal"}, "x": {"datum": 0, "type": "quantitative"}, "text": {"field": "taxon"}}},
            {"mark": {"type": "text", "align": "left", "baseline": "middle", "font": "DejaVu Sans", "fontSize": 37, "color": "#231f20",
                      "dx": {"expr": "3+35*(0.69*length(datum.family)-0.347*(length(datum.family)-length(replace(datum.family,regexp('[ilj]','g'),'')))-0.23*(length(datum.family)-length(replace(datum.family,regexp('[tfr -]','g'),'')))-0.1*(length(datum.family)-length(replace(datum.family,regexp('[csz]','g'),'')))+0.3*(length(datum.family)-length(replace(datum.family,regexp('[mwM]','g'),''))))+12+(datum.taxon ? 36*(0.62*length(datum.taxon)-0.34*(length(datum.taxon)-length(replace(datum.taxon,regexp('[ilj.]','g'),'')))-0.25*(length(datum.taxon)-length(replace(datum.taxon,regexp('[tfr ]','g'),'')))-0.08*(length(datum.taxon)-length(replace(datum.taxon,regexp('[sc]','g'),'')))+0.354*(length(datum.taxon)-length(replace(datum.taxon,regexp('[m]','g'),'')))+0.2*(length(datum.taxon)-length(replace(datum.taxon,regexp('[w]','g'),''))))+(test(regexp('^[¹²³⁴]'),datum.note)?3:13) : 0)"}},
             "encoding": {"y": {"field": "rank", "type": "ordinal"}, "x": {"datum": 0, "type": "quantitative"}, "text": {"field": "note"}}}
          ]
        }
      ],
      "spacing": 10.5, "bounds": "flush",
      "resolve": {"scale": {"x": "independent", "y": "independent"}}
    }
  ],
  "config": {
    "font": "DejaVu Sans",
    "view": {"stroke": "#231f20", "strokeWidth": 9},
    "legend": {"orient": "none", "legendX": 1960, "legendY": 1069, "padding": 28, "strokeColor": "#231f20", "strokeWidth": 5,
      "titleFont": "DejaVu Sans", "titleFontSize": 34, "titleFontWeight": "normal", "titleColor": "#231f20", "titlePadding": 14, "titleLimit": 800,
      "labelFont": "DejaVu Sans", "labelFontSize": 33, "labelColor": "#231f20", "labelOffset": 23, "labelLimit": 800,
      "symbolType": "M-1.15,-0.85H1.15V0.85H-1.15Z", "symbolSize": 2025, "symbolStrokeWidth": 0, "symbolOpacity": 1, "rowPadding": 3}
  }
}
